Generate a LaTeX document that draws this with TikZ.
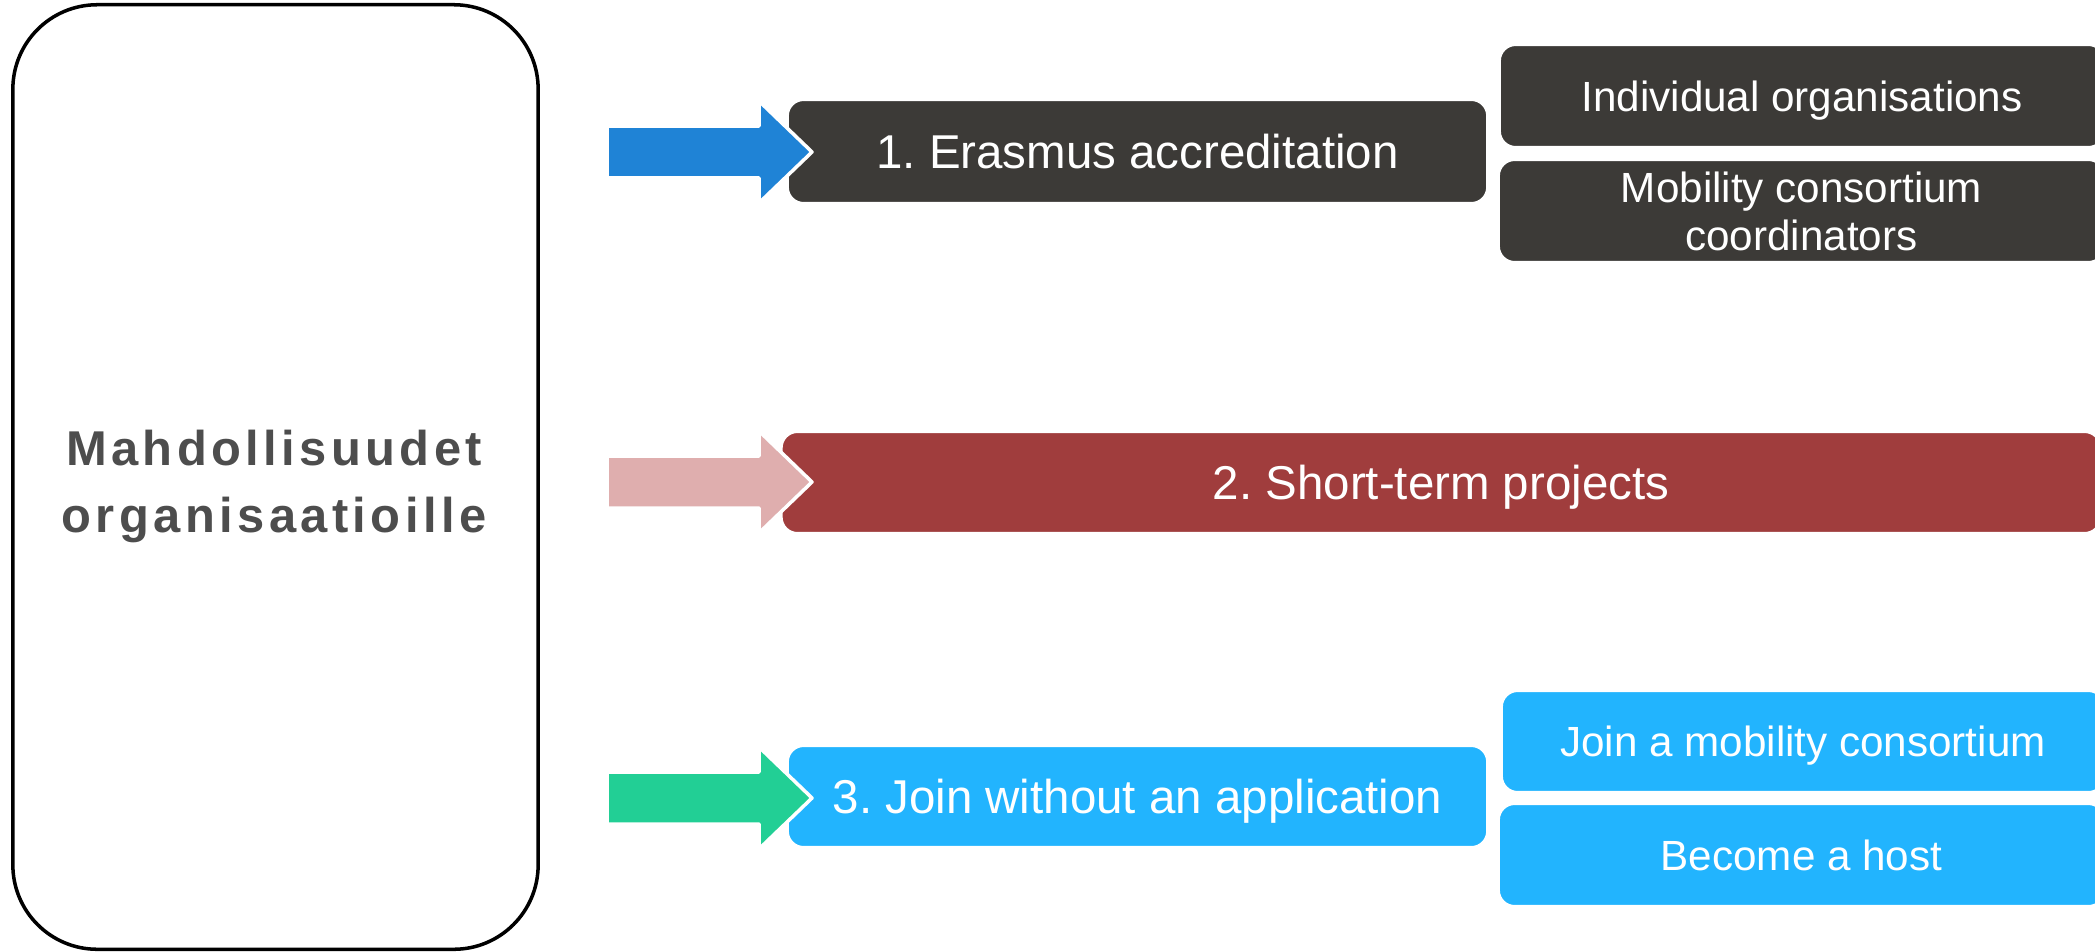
\documentclass[tikz,border=0pt]{standalone}
\usepackage{fontspec}
\setmainfont{Liberation Sans}
\newfontfamily\spacedfont[LetterSpace=9]{Liberation Sans}
\definecolor{boxdark}{HTML}{3C3A37}
\definecolor{boxred}{HTML}{A03D3D}
\definecolor{boxsky}{HTML}{22B4FE}
\definecolor{arrblue}{HTML}{1F83D6}
\definecolor{arrpink}{HTML}{DFAEAE}
\definecolor{arrgreen}{HTML}{22CF95}
\definecolor{leftgray}{HTML}{4D4D4D}
\frenchspacing
\begin{document}
\begin{tikzpicture}[x=0.01cm, y=-0.01cm, line join=round,
		box/.style={rounded corners=4.5pt, draw=white, line width=.6pt, text=white, inner sep=0pt, align=center,
			text depth=0pt, font=\fontsize{13.5}{16}\selectfont},
		subbox/.style={box, font=\fontsize{12}{13.5}\selectfont},
		blockarrow/.style={draw=white, line width=1pt}]
		\useasboundingbox (0,0) rectangle (2095,951);
		% left frame, text centred on its own
		\node[draw=black, line width=1pt, rounded corners=24pt, minimum width=5.25cm, minimum height=9.44cm] (org) at (275.5,477) {};
		\node[text=leftgray, align=center, inner sep=0pt, text depth=0pt,
			font=\spacedfont\bfseries\fontsize{13.9}{19}\selectfont] (orgtext) at (274,481) {Mahdollisuudet\\organisaatioille};
		% main boxes
		\node[box, fill=boxdark, minimum width=6.99cm, minimum height=1.03cm] (accr) at (1137.5,151.5) {1. Erasmus accreditation};
		\node[box, fill=boxred, minimum width=13.18cm, minimum height=1.01cm] (short) at (1441,482.5) {2. Short-term projects};
		\node[box, fill=boxsky, minimum width=6.99cm, minimum height=1.01cm] (join) at (1137.5,796.5) {3. Join without an application};
		% sub boxes
		\node[subbox, fill=boxdark, minimum width=6.04cm, minimum height=1.02cm] (indiv) at (1802,96) {Individual organisations};
		\node[subbox, fill=boxdark, minimum width=6.05cm, minimum height=1.02cm] (coord) at (1801.5,211) {Mobility consortium\\coordinators};
		\node[subbox, fill=boxsky, minimum width=6.02cm, minimum height=1.01cm] (cons) at (1803,741.5) {Join a mobility consortium};
		\node[subbox, fill=boxsky, minimum width=6.05cm, minimum height=1.02cm] (host) at (1801.5,855) {Become a host};
		% arrows
		\foreach \yc/\col in {152/arrblue, 482/arrpink, 798/arrgreen}
			\draw[blockarrow, fill=\col] (607,\yc-26) -- (759,\yc-26) -- (759,\yc-51) -- (812,\yc) -- (759,\yc+51) -- (759,\yc+26) -- (607,\yc+26) -- cycle;
	\end{tikzpicture}
\end{document}
